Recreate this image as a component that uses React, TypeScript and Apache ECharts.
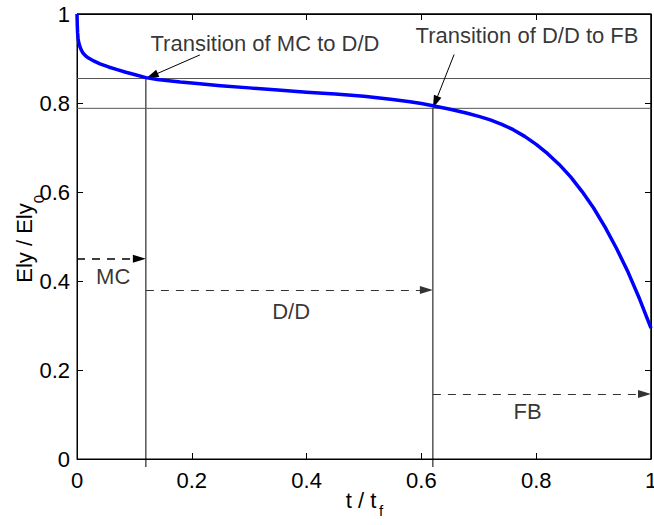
import React, { useEffect, useRef } from 'react';
import * as echarts from 'echarts';

// Curve: normalised Ely vs normalised time
const tNorm = [0, 0.0005, 0.001, 0.002, 0.003, 0.005, 0.0075, 0.01, 0.015, 0.02, 0.03, 0.04, 0.055, 0.07, 0.085, 0.1, 0.12, 0.14, 0.16, 0.18, 0.2, 0.25, 0.3, 0.35, 0.4, 0.45, 0.5, 0.55, 0.58, 0.6, 0.62, 0.65, 0.68, 0.7, 0.72, 0.74, 0.76, 0.78, 0.8, 0.82, 0.84, 0.86, 0.88, 0.9, 0.92, 0.94, 0.96, 0.98, 1.0];
const elyRatio = [1.0, 0.975, 0.958, 0.944, 0.936, 0.927, 0.919, 0.913, 0.906, 0.901, 0.894, 0.888, 0.881, 0.875, 0.869, 0.864, 0.857, 0.853, 0.85, 0.847, 0.845, 0.839, 0.834, 0.829, 0.824, 0.82, 0.815, 0.808, 0.803, 0.799, 0.794, 0.786, 0.777, 0.77, 0.762, 0.752, 0.74, 0.725, 0.707, 0.686, 0.662, 0.634, 0.601, 0.564, 0.521, 0.473, 0.42, 0.36, 0.294];

// Transition points
const transitionT = [0.12, 0.62];
const transitionLevel = [0.855, 0.788];
const lineFloor = -0.018;
const hLineEnd = 1.004;

// Phase arrows
const phaseNames = ['MC', 'D/D', 'FB'];
const phaseStart = [0, 0.12, 0.62];
const phaseEnd = [0.12, 0.62, 1.0];
const phaseLevel = [0.45, 0.38, 0.146];
const phaseLabelT = [0.063, 0.373, 0.785];
const phaseLabelV = [0.411, 0.331, 0.106];

// Annotations
const annotationTexts = ['Transition of MC to D/D', 'Transition of D/D to FB'];
const annotationTextT = [0.3275, 0.784];
const annotationTextV = [0.933, 0.951];
const annotationTailT = [0.214, 0.657];
const annotationTailV = [0.908, 0.909];

// Axes box (top and right edges)
const frameX = [0, 1, 1];
const frameY = [1, 1, 0];

const xTickInterval = 0.2;
const yTickInterval = 0.2;

const FONT = '"Liberation Sans", Arial, Helvetica, sans-serif';
const GRID = { left: 77, top: 14, width: 574, height: 445 };
const ARROW_SIZE = [8, 13];

function pullBack(x0: number, y0: number, x1: number, y1: number, px: number) {
  const dx = (x1 - x0) * GRID.width;
  const dy = (y1 - y0) * GRID.height;
  const len = Math.hypot(dx, dy);
  const k = px / len;
  return [x1 - (x1 - x0) * k, y1 - (y1 - y0) * k];
}

export default function App() {
  const ref = useRef<HTMLDivElement>(null);
  useEffect(() => {
    if (!ref.current) return;
    const chart = echarts.init(ref.current, null, { renderer: 'svg' });

    const axisCommon = {
      type: 'value' as const,
      min: 0,
      max: 1,
      axisLine: { show: true, onZero: false, lineStyle: { color: '#000', width: 1 } },
      axisTick: { show: true, inside: true, length: 6, lineStyle: { color: '#000', width: 1 } },
      splitLine: { show: false },
    };

    const series: any[] = [];
    series.push({
      type: 'line',
      data: tNorm.map((t, i) => [t, elyRatio[i]]),
      showSymbol: false,
      symbol: 'none',
      smooth: false,
      lineStyle: { color: '#0000ff', width: 3.5, join: 'round' },
      z: 5,
    });
    series.push({
      type: 'line',
      data: frameX.map((x, i) => [x, frameY[i]]),
      symbol: 'none',
      clip: false,
      silent: true,
      lineStyle: { color: '#000', width: 1 },
      z: 3,
    });
    transitionT.forEach((t, i) => {
      series.push({
        type: 'line',
        data: [[0, transitionLevel[i]], [hLineEnd, transitionLevel[i]]],
        symbol: 'none',
        clip: false,
        lineStyle: { color: '#555', width: 1 },
        z: 2,
      });
      series.push({
        type: 'line',
        data: [[t, lineFloor], [t, transitionLevel[i]]],
        symbol: 'none',
        clip: false,
        lineStyle: { color: '#000', width: 1 },
        z: 2,
      });
    });

    const markData: any[] = [];
    phaseNames.forEach((_, i) => {
      const end = pullBack(phaseStart[i], phaseLevel[i], phaseEnd[i], phaseLevel[i], ARROW_SIZE[1] / 2);
      markData.push([
        { coord: [phaseStart[i], phaseLevel[i]], symbol: 'none', lineStyle: { type: [8, 7], color: i === 0 ? '#000' : '#333', width: i === 0 ? 1.5 : 1 } },
        { coord: end, symbol: 'triangle', symbolSize: ARROW_SIZE },
      ]);
    });
    annotationTexts.forEach((_, i) => {
      const end = pullBack(annotationTailT[i], annotationTailV[i], transitionT[i], transitionLevel[i], ARROW_SIZE[1] / 2);
      markData.push([
        { coord: [annotationTailT[i], annotationTailV[i]], symbol: 'none', lineStyle: { type: 'solid', color: '#000', width: 1 } },
        { coord: end, symbol: 'triangle', symbolSize: ARROW_SIZE },
      ]);
    });
    series.push({
      type: 'line',
      data: [[0, transitionLevel[0]]],
      symbol: 'none',
      lineStyle: { width: 0 },
      z: 6,
      markLine: {
        silent: true,
        animation: false,
        symbol: ['none', 'triangle'],
        symbolSize: ARROW_SIZE,
        label: { show: false },
        lineStyle: { color: '#000', width: 1 },
        emphasis: { disabled: true },
        data: markData,
      },
    });

    const labelData: any[] = [];
    phaseNames.forEach((n, i) => labelData.push({ name: n, value: [phaseLabelT[i], phaseLabelV[i]] }));
    annotationTexts.forEach((n, i) => labelData.push({ name: n, value: [annotationTextT[i], annotationTextV[i]] }));
    series.push({
      type: 'scatter',
      data: labelData,
      symbolSize: 1,
      itemStyle: { color: 'transparent' },
      silent: true,
      z: 7,
      label: {
        show: true,
        position: 'inside',
        formatter: '{b}',
        fontSize: 22,
        fontFamily: FONT,
        color: '#000',
      },
    });
    // series bound to the mirror (top/right) axes so they get drawn
    series.push({
      type: 'line',
      xAxisIndex: 1,
      yAxisIndex: 1,
      data: [[0, 0]],
      symbol: 'none',
      lineStyle: { width: 0 },
      silent: true,
    });

    chart.setOption({
      animation: false,
      textStyle: { fontFamily: FONT },
      grid: { left: GRID.left, top: GRID.top, width: GRID.width, height: GRID.height, outerBoundsMode: 'none', show: true, borderColor: '#000', borderWidth: 1 },
      xAxis: [
        { ...axisCommon, position: 'bottom', interval: xTickInterval, axisLabel: { show: true, margin: 10, fontSize: 22, color: '#000', fontFamily: FONT } },
        { ...axisCommon, position: 'top', interval: xTickInterval, axisLabel: { show: false } },
      ],
      yAxis: [
        { ...axisCommon, position: 'left', interval: yTickInterval, axisLabel: { show: true, margin: 7, fontSize: 22, color: '#000', fontFamily: FONT } },
        { ...axisCommon, position: 'right', interval: yTickInterval, axisLabel: { show: false } },
      ],
      graphic: [
        { type: 'text', x: 24, y: 243, rotation: Math.PI / 2, style: { text: 'Ely / Ely', fontSize: 22, fontFamily: FONT, fill: '#000', align: 'center', verticalAlign: 'middle' } },
        { type: 'text', x: 38, y: 199, rotation: Math.PI / 2, style: { text: '0', fontSize: 15, fontFamily: FONT, fill: '#000', align: 'center', verticalAlign: 'middle' } },
        { type: 'text', x: 361, y: 500, style: { text: 't / t', fontSize: 22, fontFamily: FONT, fill: '#000', align: 'center', verticalAlign: 'middle' } },
        { type: 'text', x: 381, y: 510, style: { text: 'f', fontSize: 15, fontFamily: FONT, fill: '#000', align: 'center', verticalAlign: 'middle' } },
      ],
      series,
    });
    return () => chart.dispose();
  }, []);
  return <div ref={ref} style={{ position: 'fixed', left: 0, top: 0, width: 654, height: 525, background: '#fff' }} />;
}
